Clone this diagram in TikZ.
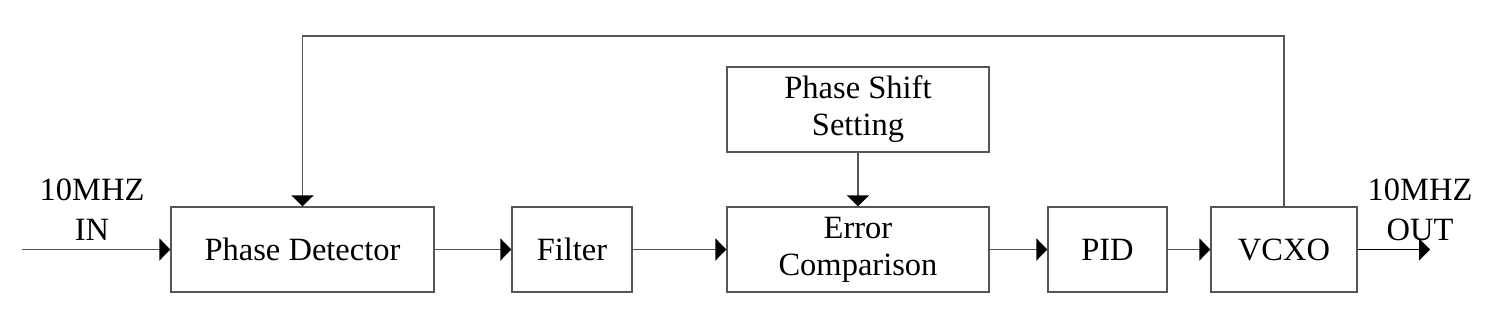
\documentclass[tikz,border=0pt]{standalone}
\usepackage{fontspec}
\setmainfont{Liberation Serif}
\usepackage{tikz}
\usetikzlibrary{arrows.meta}

\definecolor{linegray}{RGB}{85,85,85}

\begin{document}
\begin{tikzpicture}[
  x=0.02cm, y=-0.02cm,
  block/.style={draw=linegray, line width=0.8pt, minimum height=1.7cm, inner sep=0pt, align=center, font=\fontsize{18.5}{21}\selectfont},
  lbl/.style={align=center, font=\fontsize{18.5}{22.7}\selectfont},
  arr/.style={draw=linegray, line width=0.8pt, -{Triangle[length=6.2pt, width=12.5pt, color=black]}}
]
  \useasboundingbox (0,0) rectangle (1499,310);

  % blocks
  \node[block, minimum width=5.26cm] (pd) at (302.5,249.5) {Phase Detector};
  \node[block, minimum width=2.4cm] (filt) at (572,249.5) {Filter};
  \node[block, minimum width=5.24cm] (err) at (858,249.5) {Error\\Comparison};
  \node[block, minimum width=5.24cm] (shift) at (858,109.5) {Phase Shift\\Setting};
  \node[block, minimum width=2.38cm] (pid) at (1107.5,249.5) {PID};
  \node[block, minimum width=2.92cm] (vcxo) at (1284,249.5) {VCXO};

  % in / out
  \coordinate (in) at (22,249.5);
  \coordinate (out) at (1430,249.5);
  \node[lbl] (inlbl) at (92,210) {10MHZ\\IN};
  \node[lbl] (outlbl) at (1420,210) {10MHZ\\OUT};

  % main chain
  \draw[arr] (in) -- (pd);
  \draw[arr] (pd) -- (filt);
  \draw[arr] (filt) -- (err);
  \draw[arr] (err) -- (pid);
  \draw[arr] (pid) -- (vcxo);
  \draw[arr, draw=black] (vcxo) -- (out);
  \draw[arr] (shift) -- (err);

  % feedback
  \coordinate (fb) at (1284,36);
  \draw[arr] (vcxo.north) -- (fb) -| (pd.north);
\end{tikzpicture}
\end{document}
